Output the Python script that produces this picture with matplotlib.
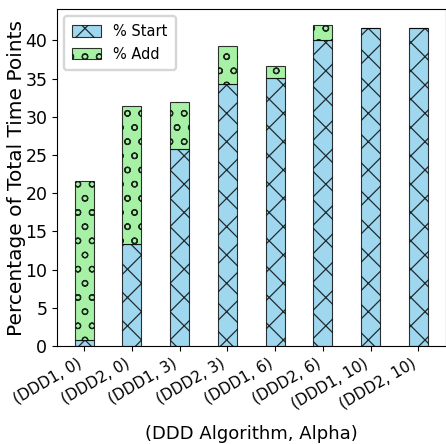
import matplotlib
matplotlib.use('Agg')
import numpy as np
import matplotlib.pyplot as plt

labels = ['(DDD1, 0)', '(DDD2, 0)', '(DDD1, 3)', '(DDD2, 3)',
          '(DDD1, 6)', '(DDD2, 6)', '(DDD1, 10)', '(DDD2, 10)']
pct_start = [0.8, 13.4, 25.8, 34.3, 35.1, 40.1, 41.6, 41.6]
pct_add = [20.8, 18.0, 6.1, 5.0, 1.6, 1.9, 0.0, 0.0]

DPI = 170
s = 100 / DPI  # scale point sizes so they look like a 100 dpi figure

plt.rcParams['hatch.linewidth'] = 0.9 * s
plt.rcParams['axes.linewidth'] = 0.8 * s
plt.rcParams['xtick.major.width'] = 0.8 * s
plt.rcParams['ytick.major.width'] = 0.8 * s
plt.rcParams['xtick.major.size'] = 3.5 * s
plt.rcParams['ytick.major.size'] = 3.5 * s
plt.rcParams['xtick.major.pad'] = 3.5 * s
plt.rcParams['ytick.major.pad'] = 3.5 * s

fig = plt.figure(figsize=(446 / DPI, 444 / DPI), dpi=DPI)
ax = fig.add_axes([57 / 446, 98 / 444, 388.5 / 446, 337 / 444])

x = np.arange(len(labels))
ax.bar(x, pct_start, width=0.4, color='skyblue', alpha=0.8, edgecolor='black',
       linewidth=0.8 * s, hatch='xx', label='% Start')
ax.bar(x, pct_add, width=0.4, bottom=pct_start, color='lightgreen', alpha=0.8,
       edgecolor='black', linewidth=0.8 * s, hatch='oo', label='% Add')

ax.set_xticks(x)
ax.set_xticklabels(labels, rotation=30, ha='right', fontsize=11 * s)
ax.tick_params(axis='y', labelsize=12.5 * s)
ax.set_xlabel('(DDD Algorithm, Alpha)', fontsize=13 * s)
ax.set_ylabel('Percentage of Total Time Points', fontsize=14.5 * s)
ax.xaxis.set_label_coords(0.5, -0.234)
ax.yaxis.set_label_coords(-0.08, 0.5)
ax.legend(loc='upper left', fontsize=10.5 * s, handleheight=0.85, borderpad=0.55)

fig.savefig('out.png', dpi=DPI)
